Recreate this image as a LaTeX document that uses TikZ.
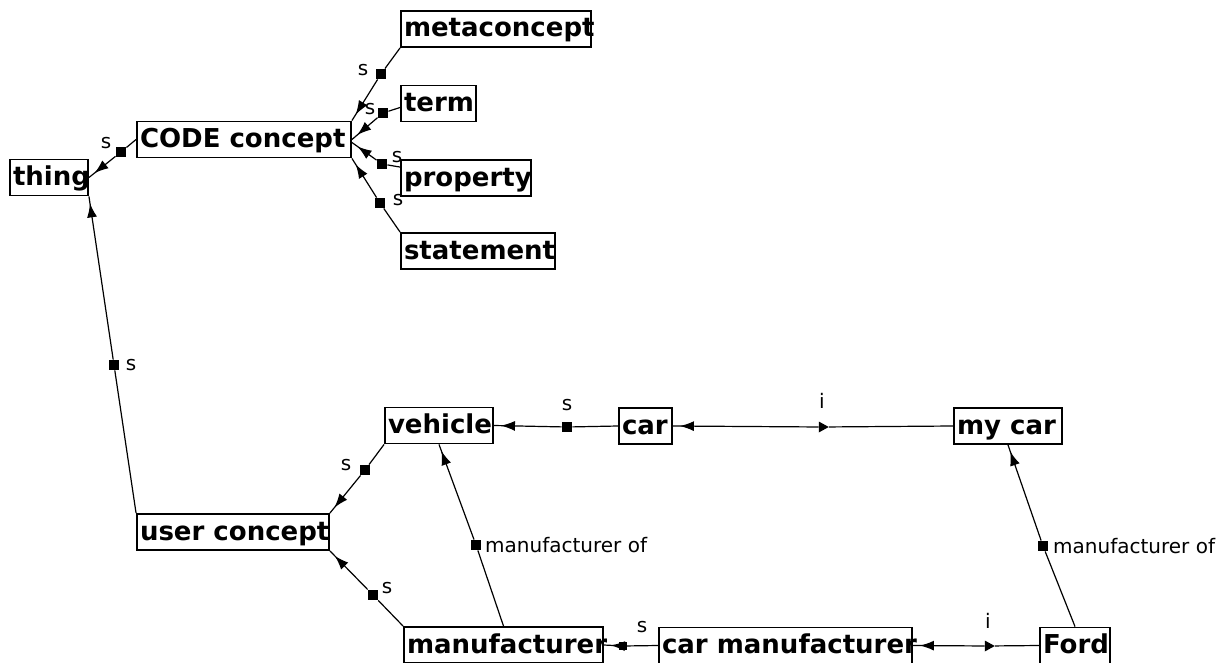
\documentclass[tikz,border=0pt]{standalone}
\usepackage{fontspec}
\setmainfont{DejaVu Sans}
\usetikzlibrary{arrows.meta,decorations.markings,shapes.geometric,calc}
% fixed-width, left-aligned box text
\newcommand{\bt}[2]{\hbox to #1pt{#2\hss}}

\begin{document}
\begin{tikzpicture}[x=1pt,y=-1pt,
  box/.style={draw, line width=1.9pt, inner xsep=3pt, inner ysep=0pt,
    text height=21pt, text depth=5pt,
    minimum height=36pt, font=\fontsize{26}{28}\selectfont\bfseries},
  sq/.style={fill=black, rectangle, minimum size=10.5pt, inner sep=0pt},
  itri/.style={isosceles triangle, fill=black, inner sep=0pt,
    isosceles triangle stretches, minimum height=10pt, minimum width=11pt},
  lbl/.style={inner sep=0pt, font=\fontsize{20}{22}\selectfont},
  link/.style={line width=1.2pt},
  rel/.style={line width=1.2pt, postaction={decorate},
    decoration={markings,
      mark=at position -7pt with {\arrow{Latex[length=14pt,width=10pt]}}}}
]
\fill[white] (0,0) rectangle (1225,663);
\useasboundingbox (0,0) rectangle (1225,663);

% concept boxes
\node[box] (thing)   at (49,177.5)   {\bt{72}{thing}};
\node[box] (code)    at (244,139.5)  {\bt{208}{CODE concept}};
\node[box] (meta)    at (496,29)     {\bt{184}{metaconcept}};
\node[box] (term)    at (438.5,103.5){\bt{69}{term}};
\node[box] (prop)    at (466,178)    {\bt{124}{property}};
\node[box] (stmt)    at (478,251)    {\bt{148}{statement}};
\node[box] (vehicle) at (439,425.5)  {\bt{102}{vehicle}};
\node[box] (car)     at (645.5,426)  {\bt{47}{car}};
\node[box] (mycar)   at (1008,426)   {\bt{102}{my car}};
\node[box] (user)    at (233,532)    {\bt{186}{user concept}};
\node[box] (manu)    at (503.5,645)  {\bt{193}{manufacturer}};
\node[box] (carmanu) at (785.5,645.5){\bt{247}{car manufacturer}};
\node[box] (ford)    at (1075,645.5) {\bt{64}{Ford}};

% relation markers
\node[sq] (s1)  at (121,152) {};
\node[sq] (s2)  at (381,74) {};
\node[sq] (s3)  at (383,113) {};
\node[sq] (s4)  at (382,164) {};
\node[sq] (s5)  at (380,203) {};
\node[sq] (s6)  at (114,365) {};
\node[sq] (s7)  at (365,470) {};
\node[sq] (s8)  at (373,595) {};
\node[sq] (s9)  at (476,545) {};
\node[sq] (s10) at (567,427) {};
\node[itri] (t11) at (822,427) {};
\node[sq, minimum size=8pt] (s12) at (623,646) {};
\node[itri] (t13) at (988,646) {};
\node[sq] (s14) at (1043,546) {};

% subtype links
\draw[link] (code.west) -- (s1);
\draw[rel]  (s1) -- (thing.east);
\draw[link] (meta.south west) -- (s2);
\draw[rel]  (s2) -- (code.north east);
\draw[link] ($(term.west)+(0,4)$) -- (s3);
\draw[rel]  (s3) -- (code.east);
\draw[link] ($(prop.north west)+(0,8)$) -- (s4);
\draw[rel]  (s4) -- ($(code.east)+(0,3)$);
\draw[link] (stmt.north west) -- (s5);
\draw[rel]  (s5) -- (code.south east);
\draw[link] (user.north west) -- (s6);
\draw[rel]  (s6) -- (thing.south east);
\draw[link] (vehicle.south west) -- (s7);
\draw[rel]  (s7) -- (user.north east);
\draw[link] (manu.north west) -- (s8);
\draw[rel]  (s8) -- (user.south east);
\draw[link] (car.west) -- (s10);
\draw[rel]  (s10) -- (vehicle.east);
\draw[link] (carmanu.west) -- (s12);
\draw[rel]  (s12) -- (manu.east);

% instance links
\draw[link] (mycar.west) -- (t11);
\draw[rel]  (t11) -- (car.east);
\draw[link] (ford.west) -- (t13);
\draw[rel]  (t13) -- (carmanu.east);

% manufacturer-of links
\draw[link] (manu.north) -- (s9);
\draw[rel]  (s9) -- (vehicle.south);
\draw[link] (ford.north) -- (s14);
\draw[rel]  (s14) -- (mycar.south);

% link labels
\node[lbl] at (106,143) {s};
\node[lbl] at (363,70)  {s};
\node[lbl] at (370,109) {s};
\node[lbl] at (397,157) {s};
\node[lbl] at (398,200) {s};
\node[lbl] at (131,365) {s};
\node[lbl] at (346,465) {s};
\node[lbl] at (387,588) {s};
\node[lbl] at (567,405) {s};
\node[lbl] at (642,627) {s};
\node[lbl] at (822,401) {i};
\node[lbl] at (988,621) {i};
\node[lbl, anchor=west] at (485,545) {manufacturer of};
\node[lbl, anchor=west] at (1053,546) {manufacturer of};
\end{tikzpicture}
\end{document}
